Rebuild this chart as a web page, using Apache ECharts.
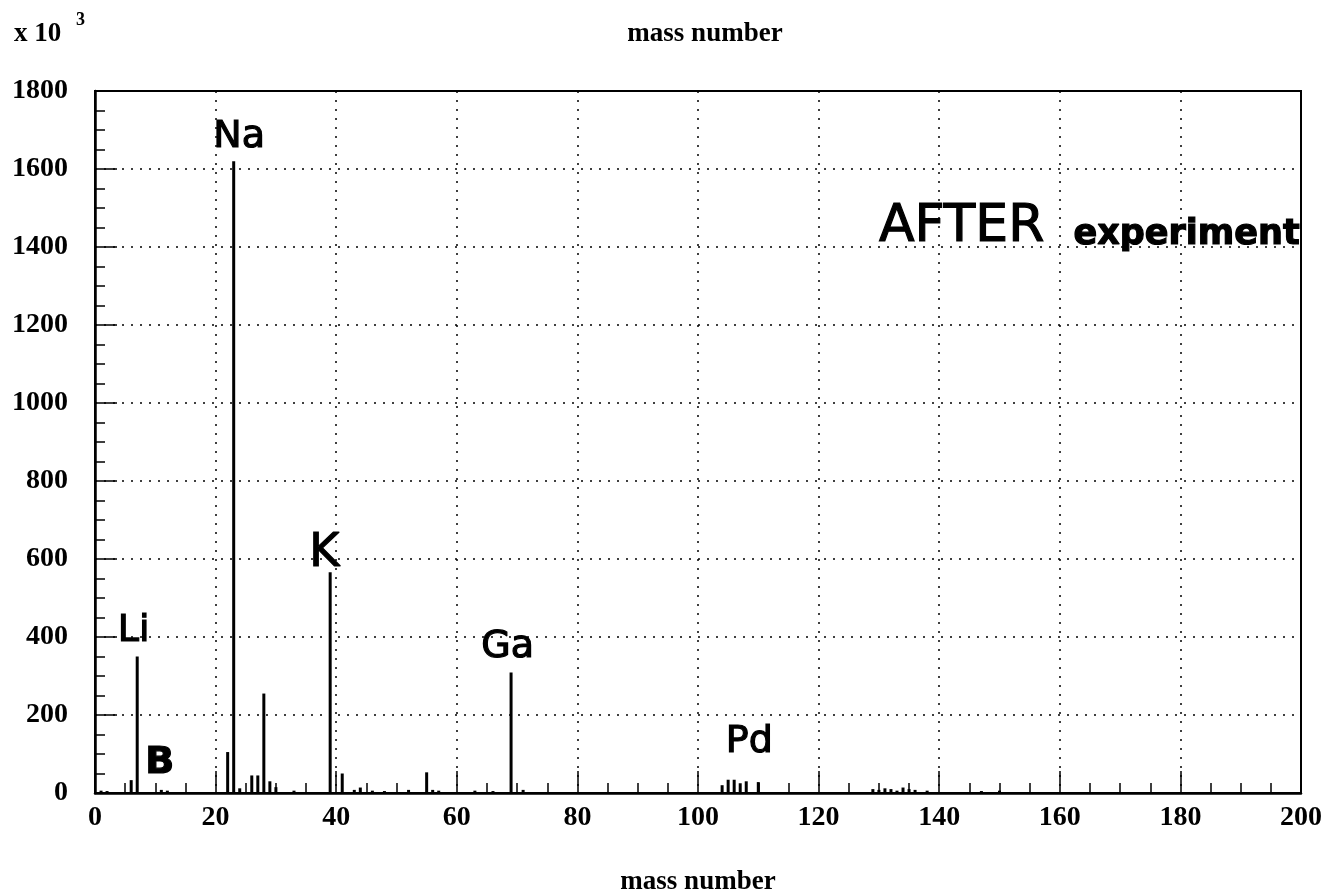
<!DOCTYPE html>
<html>
<head>
<meta charset="utf-8">
<script src="https://cdn.jsdelivr.net/npm/echarts@6/dist/echarts.min.js"></script>
<style>
html,body{margin:0;padding:0;background:#fff;}
#chart{width:1331px;height:895px;}
</style>
</head>
<body>
<div id="chart"></div>
<script>
// mass numbers and counts (x 10^3)
const masses = [1, 2, 6, 7, 11, 12, 22, 23, 24, 26, 27, 28, 29, 30, 33, 39, 41, 43, 44, 46, 48, 52, 55, 56, 57, 63, 66, 69, 71, 104, 105, 106, 107, 108, 110, 129, 130, 131, 132, 133, 134, 135, 136, 138, 147, 150];
const counts = [6, 5, 33, 350, 8, 6, 105, 1620, 12, 45, 45, 255, 30, 15, 6, 566, 50, 8, 14, 6, 5, 8, 53, 8, 6, 6, 5, 309, 8, 20, 34, 34, 25, 30, 28, 10, 8, 12, 10, 6, 14, 10, 8, 6, 5, 6];
const xTicks = [0, 20, 40, 60, 80, 100, 120, 140, 160, 180, 200];
const yTicks = [0, 200, 400, 600, 800, 1000, 1200, 1400, 1600, 1800];
// handwritten annotations: text, mass, count position
const noteText = ['Na', 'K', 'Li', 'B', 'Ga', 'Pd', 'AFTER', 'experiment'];
const noteX = [24.0, 38.1, 6.5, 10.8, 68.5, 108.6, 143.8, 181.1];
const noteY = [1680, 612, 414, 75, 372, 128, 1449, 1431];

const hand = {
  'Na': {fontSize: 38}, 'K': {fontSize: 46}, 'Li': {fontSize: 38},
  'B': {fontSize: 38, fontWeight: 'bold'}, 'Ga': {fontSize: 38}, 'Pd': {fontSize: 38},
  'AFTER': {fontSize: 52}, 'experiment': {fontSize: 35, fontWeight: 'bold'}
};

const serif = 'Liberation Serif, DejaVu Serif, serif';
const chart = echarts.init(document.getElementById('chart'));
const dotted = {color: '#000', width: 1.5, type: [2, 7]};
const axisCommon = {
  axisLine: {show: true, lineStyle: {color: '#000', width: 2.5}},
  axisTick: {show: true, inside: true, length: 22, lineStyle: {color: '#000', width: 1.5}},
  minorTick: {show: true, splitNumber: 4, length: 10, lineStyle: {color: '#000', width: 1.5}},
  splitLine: {show: true, lineStyle: dotted},
  axisLabel: {color: '#000', fontFamily: serif, fontWeight: 'bold', fontSize: 28, formatter: v => String(v)}
};

chart.setOption({
  animation: false,
  backgroundColor: '#fff',
  grid: {left: 95, right: 30, top: 91, bottom: 102, outerBoundsMode: 'none', containLabel: false,
    show: true, borderColor: '#000', borderWidth: 2, backgroundColor: 'transparent'},
  title: {
    text: 'mass number', left: 700, top: 16, textAlign: 'center',
    textStyle: {color: '#000', fontFamily: serif, fontWeight: 'bold', fontSize: 27}
  },
  graphic: [
    {type: 'text', left: 14, top: 21, style: {text: 'x 10', fill: '#000', font: 'bold 27px ' + serif}},
    {type: 'text', left: 76, top: 11, style: {text: '3', fill: '#000', font: 'bold 18px ' + serif}}
  ],
  xAxis: Object.assign({
    type: 'value', min: xTicks[0], max: xTicks[xTicks.length - 1], interval: xTicks[1] - xTicks[0],
    name: 'mass number', nameLocation: 'middle', nameGap: 76,
    nameTextStyle: {color: '#000', fontFamily: serif, fontWeight: 'bold', fontSize: 27}
  }, axisCommon, {axisLabel: Object.assign({}, axisCommon.axisLabel, {margin: 11})}),
  yAxis: Object.assign({
    type: 'value', min: yTicks[0], max: yTicks[yTicks.length - 1], interval: yTicks[1] - yTicks[0]
  }, axisCommon, {axisLabel: Object.assign({}, axisCommon.axisLabel, {margin: 27, padding: [6, 0, 0, 0]})}),
  series: [
    {
      type: 'bar', barWidth: 3,
      itemStyle: {color: '#000'},
      data: masses.map((m, i) => [m, counts[i]]),
      z: 3
    },
    {
      type: 'scatter', symbolSize: 1, z: 5,
      itemStyle: {opacity: 0},
      data: noteText.map((t, i) => ({
        value: [noteX[i], noteY[i]], name: t,
        label: Object.assign({show: true, position: [0, 0], align: 'center', verticalAlign: 'middle',
          formatter: t, color: '#000', opacity: 1, textBorderColor: '#000', textBorderWidth: 1.2,
          fontFamily: 'DejaVu Sans, Noto Sans, sans-serif', fontWeight: 'normal'}, hand[t])
      }))
    }
  ]
});
</script>
</body>
</html>
